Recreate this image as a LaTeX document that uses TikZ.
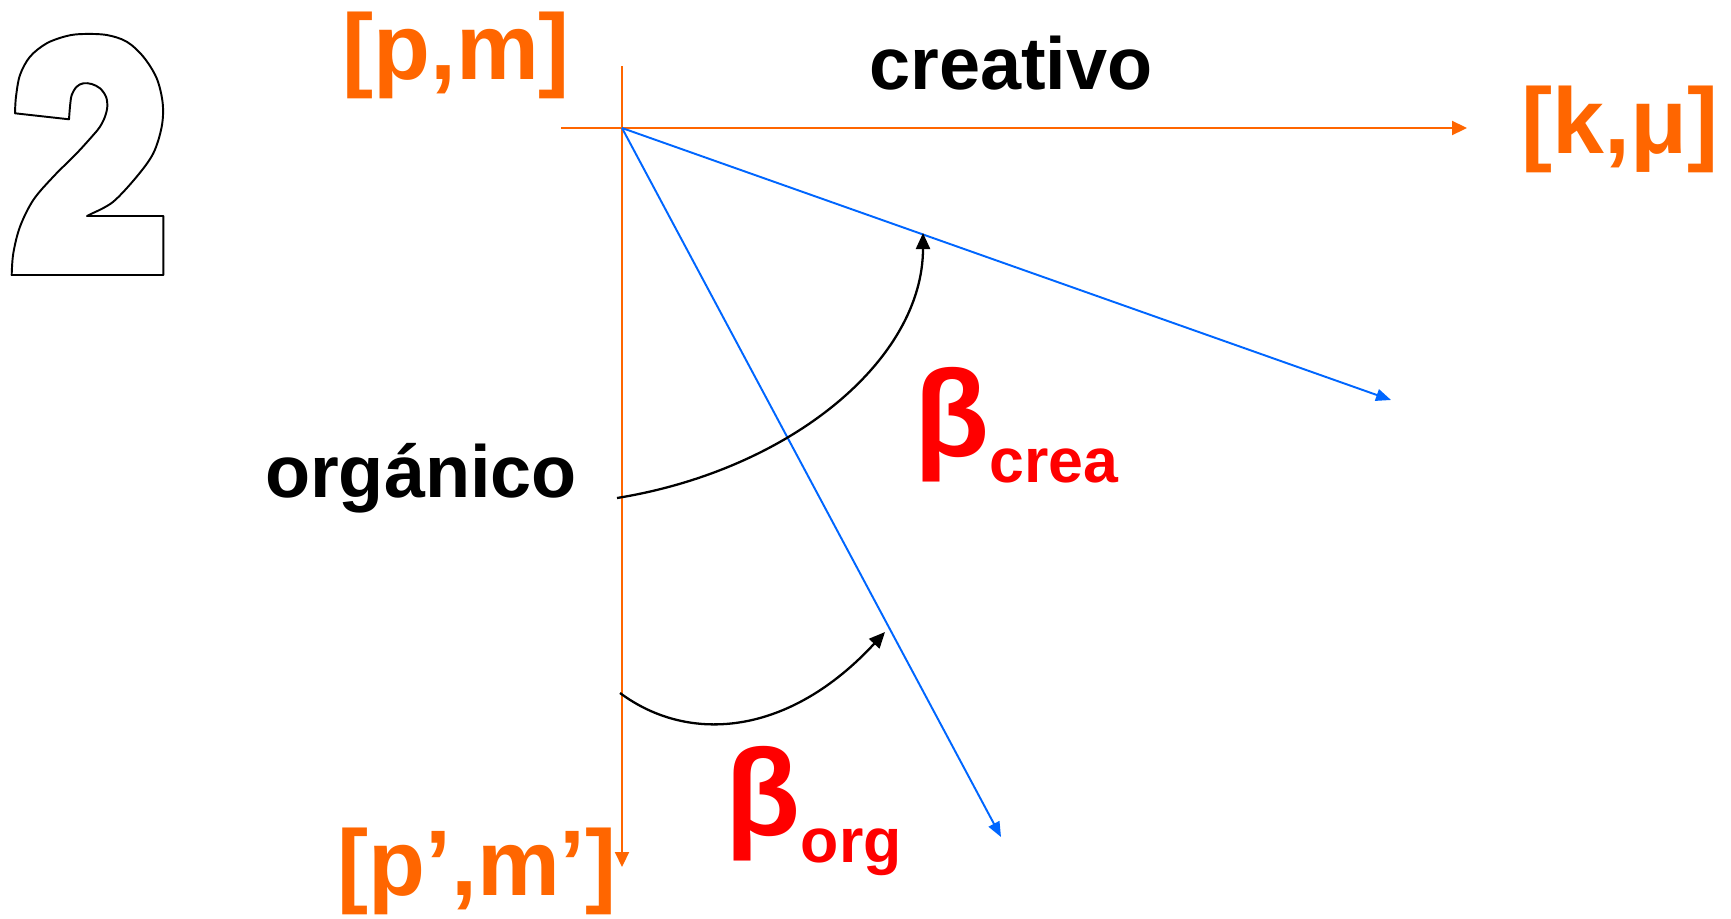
\documentclass[tikz,border=0pt]{standalone}
\usepackage{fontspec}
\setmainfont{Liberation Sans}
\usetikzlibrary{arrows.meta, positioning}
\definecolor{naranjaeje}{HTML}{FF6600}
\definecolor{azulvector}{HTML}{0066FF}
\definecolor{rojobeta}{HTML}{FF0000}
\colorlet{colEje}{naranjaeje}
\colorlet{colVector}{azulvector}
\colorlet{colBeta}{rojobeta}
\colorlet{colTexto}{black}
\tikzset{
  flechaEje/.style={-{Triangle[length=1.5mm, width=1.4mm]}, line width=0.6pt, colEje},
  flechaVector/.style={-{Triangle[length=1.5mm, width=1.2mm]}, line width=0.55pt, colVector},
  flechaArco/.style={-{Triangle[length=1.6mm, width=1.4mm]}, line width=0.65pt, colTexto},
  etiquetaEje/.style={font=\fontsize{26.5pt}{28pt}\selectfont\bfseries,
    text=colEje, inner sep=0pt, anchor=base},
  etiquetaTexto/.style={font=\fontsize{21pt}{23pt}\selectfont\bfseries,
    text=colTexto, inner sep=0pt, anchor=base},
  etiquetaBeta/.style={font=\fontsize{35pt}{37pt}\selectfont\bfseries,
    text=colBeta, inner sep=0pt, anchor=base west},
  contornoDos/.style={draw=black, line width=0.55pt, line join=round},
}
\newcommand{\subBeta}[2]{\raisebox{-#2}{\fontsize{17.8pt}{19pt}\selectfont #1}}

\begin{document}
\begin{tikzpicture}[x=0.01cm, y=-0.01cm]
    \useasboundingbox (0,0) rectangle (1731,918);

    % Numero
    \draw[contornoDos] (11.7,275)
      -- plot[smooth, tension=0.55] coordinates {(11.7,275) (13.3,253.3) (20,226.7) (33.3,200)
         (53.3,176.7) (76.7,153.3) (93.3,135) (100,126.7) (105,116.7) (107.3,106.7) (106,96.7)
         (100,88.3) (91.7,84) (83.3,83.3) (76.7,86.7) (71.7,95) (70,106.7) (69,119.3)}
      -- (15,113.3)
      -- plot[smooth, tension=0.55] coordinates {(15,113.3) (16,96.7) (20,75) (30,56.7) (46.7,43.3)
         (66.7,36) (83.3,34) (106.7,35) (126.7,41.7) (143.3,56.7) (156.7,78.3) (162.7,103.3)
         (161.7,126.7) (153.3,153.3) (136.7,176.7) (113.3,201.7) (93,213)}
      -- (87,216) -- (163.3,216) -- (163.3,275) -- cycle;

    % Ejes
    \coordinate (O) at (622,128);
    \coordinate (ejeXini) at (561,128);
    \coordinate (ejeXfin) at (1467,128);
    \coordinate (ejeYini) at (622,66);
    \coordinate (ejeYfin) at (622,867);
    \draw[flechaEje] (ejeXini) -- (ejeXfin);
    \draw[flechaEje] (ejeYini) -- (ejeYfin);

    \node[etiquetaEje] (pm) at (456,79) {[p,m]};
    \node[etiquetaEje] (kmu) at (1620,153) {[k,μ]};
    \node[etiquetaEje] (pmPrima) at (477,895) {[p’,m’]};
    \node[etiquetaTexto] (creativo) at (1011,89) {creativo};
    \node[etiquetaTexto] (organico) at (421,497) {orgánico};

    % Vectores
    \coordinate (vCrea) at (1391,400);
    \coordinate (vOrg) at (1001,837);
    \draw[flechaVector] (O) -- (vCrea);
    \draw[flechaVector] (O) -- (vOrg);

    % Angulos
    \coordinate (arcoCreaIni) at (617,498);
    \coordinate (arcoCreaFin) at (923,233);
    \coordinate (arcoOrgIni) at (620,693);
    \coordinate (arcoOrgFin) at (885,632);
    \draw[flechaArco] (arcoCreaIni) .. controls (790,470) and (923,360) .. (arcoCreaFin);
    \draw[flechaArco] (arcoOrgIni) .. controls (690,745) and (790,735) .. (arcoOrgFin);

    \node[etiquetaBeta] (betaCrea) at (914,456) {β\subBeta{crea}{2.6mm}};
    \node[etiquetaBeta] (betaOrg) at (725,835) {β\subBeta{org}{2.7mm}};
  \end{tikzpicture}
\end{document}
